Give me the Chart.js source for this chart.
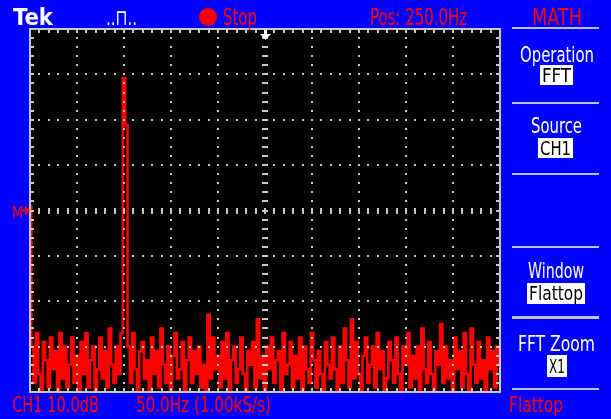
<!DOCTYPE html>
<html><head><meta charset="utf-8">
<script src="https://cdn.jsdelivr.net/npm/chart.js@4.4.0/dist/chart.umd.min.js"></script>
<style>html,body{margin:0;padding:0;background:#0000ff;}canvas{display:block;}</style>
</head><body>
<canvas id="c" width="611" height="419"></canvas>
<script>
// FFT bins (Hz), 0 .. 500 Hz
const freqLabels = [0,2.5,5,7.5,10,12.5,15,17.5,20,22.5,25,27.5,30,32.5,35,37.5,40,42.5,45,47.5,50,52.5,55,57.5,60,62.5,65,67.5,70,72.5,75,77.5,80,82.5,85,87.5,90,92.5,95,97.5,100,102.5,105,107.5,110,112.5,115,117.5,120,122.5,125,127.5,130,132.5,135,137.5,140,142.5,145,147.5,150,152.5,155,157.5,160,162.5,165,167.5,170,172.5,175,177.5,180,182.5,185,187.5,190,192.5,195,197.5,200,202.5,205,207.5,210,212.5,215,217.5,220,222.5,225,227.5,230,232.5,235,237.5,240,242.5,245,247.5,250,252.5,255,257.5,260,262.5,265,267.5,270,272.5,275,277.5,280,282.5,285,287.5,290,292.5,295,297.5,300,302.5,305,307.5,310,312.5,315,317.5,320,322.5,325,327.5,330,332.5,335,337.5,340,342.5,345,347.5,350,352.5,355,357.5,360,362.5,365,367.5,370,372.5,375,377.5,380,382.5,385,387.5,390,392.5,395,397.5,400,402.5,405,407.5,410,412.5,415,417.5,420,422.5,425,427.5,430,432.5,435,437.5,440,442.5,445,447.5,450,452.5,455,457.5,460,462.5,465,467.5,470,472.5,475,477.5,480,482.5,485,487.5,490,492.5,495,497.5,500];
// Magnitude (dB relative to the M reference level)
const dbValues = [
 1,-30,-38,-27,-36,-40,-29,-33,-39,-28,
 -35,-31,-40,-27,-37,-30,-39,-34,-28,-38,
 -32,-40,-29,-36,-27,-39,-33,-30,-40,-35,
 -28,-37,-31,-39,-26,-34,-38,-30,-36,-27,
 29.2,18.8,-30,-38,-27,-35,-40,-31,-29,-37,
 -33,-40,-28,-36,-31,-39,-26,-34,-38,-30,
 -40,-32,-27,-37,-35,-29,-40,-33,-28,-38,
 -31,-36,-30,-39,-34,-40,-23,-37,-28,-35,
 -32,-39,-29,-37,-27,-40,-33,-30,-38,-35,
 -28,-36,-40,-31,-34,-29,-39,-24,-37,-32,
 -40,-30,-35,-28,-38,-33,-31,-40,-27,-36,
 -34,-29,-39,-32,-37,-28,-40,-30,-35,-38,
 -27,-33,-39,-31,-36,-40,-29,-34,-37,-28,
 -35,-40,-30,-38,-26,-33,-39,-24,-37,-29,
 -36,-40,-32,-28,-38,-34,-30,-39,-27,-35,
 -31,-40,-37,-29,-33,-38,-28,-36,-40,-30,
 -34,-27,-39,-32,-37,-30,-40,-26,-35,-38,
 -29,-36,-40,-31,-34,-25,-38,-30,-37,-33,
 -40,-28,-35,-31,-39,-27,-36,-40,-26,-34,
 -38,-29,-37,-33,-40,-28,-35,-31,-39,-30,
 -34];
const yRangeDb = [-40, 40];   // 10 dB/div, 8 divisions
const xRangeHz = [0, 500];    // 50 Hz/div, 10 divisions

const FONT = '"DejaVu Sans Condensed","DejaVu Sans",sans-serif';
function txt(ctx, s, x1, x2, base, size, color, weight, sy) {
  ctx.save();
  ctx.font = (weight || 'normal') + ' ' + size + 'px ' + FONT;
  const m = ctx.measureText(s).width;
  ctx.translate(x1, base);
  ctx.scale((x2 - x1) / m, sy || 1);
  ctx.fillStyle = color;
  ctx.textBaseline = 'alphabetic';
  ctx.fillText(s, 0, 0);
  ctx.restore();
}
function box(ctx, s, x1, x2, y1, y2, base, size) {
  ctx.fillStyle = '#ffffff';
  ctx.fillRect(x1, y1, x2 - x1, y2 - y1);
  txt(ctx, s, x1 + 2, x2 - 2, base, size, '#000000', 'normal', 1.1);
}

const screenPlugin = {
  id: 'screen',
  beforeDraw(chart) {
    const ctx = chart.ctx, a = chart.chartArea;
    ctx.save();
    ctx.fillStyle = '#0000ff';
    ctx.fillRect(0, 0, chart.width, chart.height);
    ctx.fillStyle = '#000000';
    ctx.fillRect(a.left, a.top, a.right - a.left, a.bottom - a.top);
    ctx.restore();
  },
  afterDatasetsDraw(chart) {
    const ctx = chart.ctx, a = chart.chartArea;
    const W = a.right - a.left, H = a.bottom - a.top;
    const dx = W / 10, dy = H / 8, mx = dx / 5, my = dy / 5;
    ctx.save();
    ctx.fillStyle = '#c8c8c8';
    for (let j = 1; j < 10; j++) {
      if (j === 5) continue;
      const x = Math.round(a.left + j * dx);
      for (let k = 1; k < 40; k++) {
        const y = Math.round(a.top + k * my);
        ctx.fillRect(x - 1, y - 1, 2, 2);
      }
    }
    for (let k = 1; k < 8; k++) {
      if (k === 4) continue;
      const y = Math.round(a.top + k * dy);
      for (let j = 1; j < 50; j++) {
        const x = Math.round(a.left + j * mx);
        ctx.fillRect(x - 1, y - 1, 2, 2);
      }
    }
    const cy = Math.round(a.top + 4 * dy), cx = Math.round(a.left + 5 * dx);
    for (let j = 1; j < 50; j++) {
      const x = Math.round(a.left + j * mx);
      ctx.fillRect(x - 1, cy - 3, 2, 6);
    }
    for (let k = 1; k < 40; k++) {
      const y = Math.round(a.top + k * my);
      ctx.fillRect(cx - 3, y - 1, 6, 2);
    }
    ctx.fillRect(a.left - 1, a.top - 1, W + 2, 2);
    ctx.fillRect(a.left - 1, a.bottom - 1, W + 2, 2);
    ctx.fillRect(a.left - 1, a.top - 1, 2, H + 2);
    ctx.fillRect(a.right - 1, a.top - 1, 2, H + 2);
    for (let j = 1; j < 50; j++) {
      const x = Math.round(a.left + j * mx);
      ctx.fillRect(x - 1, a.top, 2, 4);
      ctx.fillRect(x - 1, a.bottom - 4, 2, 4);
    }
    for (let k = 1; k < 40; k++) {
      const y = Math.round(a.top + k * my);
      ctx.fillRect(a.left, y - 1, 4, 2);
      ctx.fillRect(a.right - 4, y - 1, 4, 2);
    }
    ctx.fillStyle = '#ffffff';
    ctx.fillRect(cx - 1, a.top + 1, 3, 5);
    ctx.beginPath();
    ctx.moveTo(cx - 5, a.top + 5);
    ctx.lineTo(cx + 6, a.top + 5);
    ctx.lineTo(cx + 0.5, a.top + 11);
    ctx.closePath();
    ctx.fill();
    ctx.restore();
  },
  afterDraw(chart) {
    const ctx = chart.ctx;
    ctx.save();
    // top bar
    txt(ctx, 'Tek', 13, 53, 25, 21, '#ffffff', 'bold', 1.1);
    txt(ctx, '..\u2293..', 106, 137, 25, 20, '#ffffff', 'normal', 1.1);
    ctx.fillStyle = '#ff0000';
    ctx.beginPath(); ctx.arc(208, 17, 9, 0, Math.PI * 2); ctx.fill();
    txt(ctx, 'Stop', 223, 257, 25, 20, '#ff0000', 'normal', 1.15);
    txt(ctx, 'Pos: 250.0Hz', 370, 467, 25, 20, '#ff0000', 'normal', 1.15);
    txt(ctx, 'MATH', 532, 582, 25, 20, '#ff0000', 'normal', 1.15);
    // bottom bar
    txt(ctx, 'CH1 10.0dB', 12, 99, 412, 20, '#ff0000', 'normal', 1.1);
    txt(ctx, '50.0Hz (1.00kS/s)', 136, 271, 412, 20, '#ff0000', 'normal', 1.1);
    txt(ctx, 'Flattop', 509, 563, 412, 20, '#ff0000', 'normal', 1.1);
    // M reference marker
    const my = chart.scales.y.getPixelForValue(0);
    txt(ctx, 'M', 12, 23, my + 7, 16, '#ff0000', 'normal');
    ctx.fillStyle = '#ff0000';
    ctx.fillRect(22, my - 1, 5, 2);
    ctx.beginPath(); ctx.moveTo(25, my - 5); ctx.lineTo(30, my); ctx.lineTo(25, my + 5); ctx.closePath(); ctx.fill();
    // right menu
    ctx.fillStyle = '#b8c0f0';
    [28, 103, 174, 247, 389].forEach(y => ctx.fillRect(512, y - 1, 87, 2));
    ctx.fillStyle = '#c0c0c0';
    ctx.fillRect(512, 316, 87, 3);
    txt(ctx, 'Operation', 520, 594, 62, 19, '#ffffff', 'normal', 1.1);
    box(ctx, 'FFT', 540, 573, 65, 85, 82, 18);
    txt(ctx, 'Source', 531, 582, 133, 19, '#ffffff', 'normal', 1.1);
    box(ctx, 'CH1', 538, 573, 138, 158, 155, 18);
    txt(ctx, 'Window', 528, 584, 278, 19, '#ffffff', 'normal', 1.1);
    box(ctx, 'Flattop', 527, 585, 283, 304, 300, 18);
    txt(ctx, 'FFT Zoom', 518, 595, 351, 19, '#ffffff', 'normal', 1.1);
    box(ctx, 'X1', 547, 567, 355, 377, 373, 18);
    ctx.restore();
  }
};

new Chart(document.getElementById('c'), {
  type: 'line',
  data: {
    labels: freqLabels,
    datasets: [{
      data: dbValues,
      borderColor: '#ff0000',
      borderWidth: 2.6,
      pointRadius: 0,
      stepped: 'middle',
      fill: false,
      clip: 0
    }]
  },
  options: {
    responsive: false,
    animation: false,
    events: [],
    layout: { padding: { left: 30, right: 111, top: 29, bottom: 27 } },
    plugins: { legend: { display: false }, tooltip: { enabled: false } },
    scales: {
      x: { display: false },
      y: { display: false, min: yRangeDb[0], max: yRangeDb[1] }
    }
  },
  plugins: [screenPlugin]
});
</script>
</body></html>
